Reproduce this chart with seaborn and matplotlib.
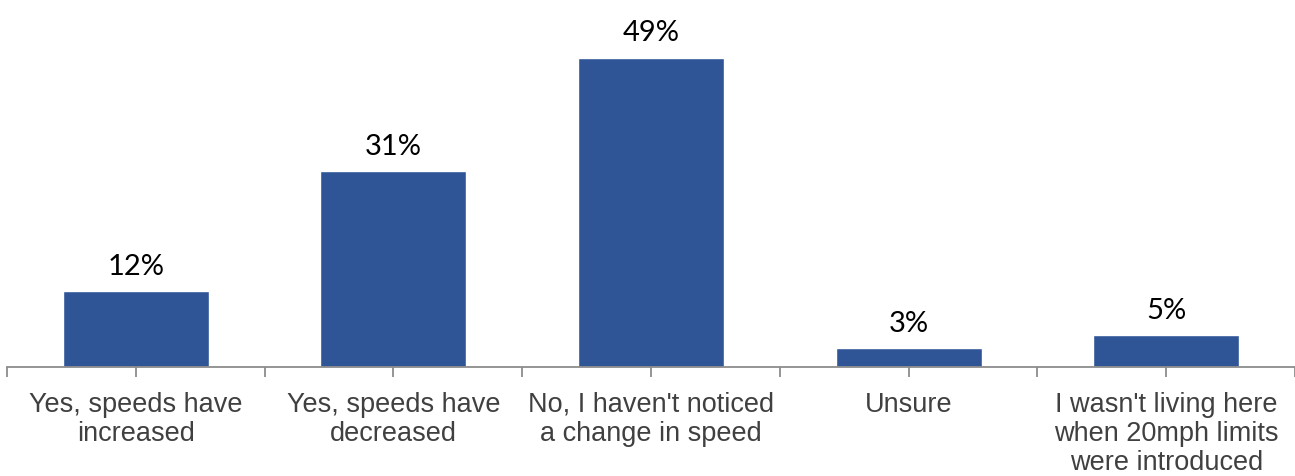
import matplotlib
matplotlib.use("Agg")
import matplotlib.pyplot as plt
import seaborn as sns
import pandas as pd
import numpy as np

categories = [
    "Yes, speeds have\nincreased",
    "Yes, speeds have\ndecreased",
    "No, I haven't noticed\na change in speed",
    "Unsure",
    "I wasn't living here\nwhen 20mph limits\nwere introduced",
]
values = [12, 31, 49, 3, 5]
value_labels = ["12%", "31%", "49%", "3%", "5%"]

sns.set_theme(style="white")
plt.rcParams["font.family"] = ["Liberation Sans", "DejaVu Sans"]

df = pd.DataFrame({"category": categories, "value": values})

fig = plt.figure(figsize=(12.95, 4.77), dpi=100)
ax = fig.add_axes([7 / 1295, 109 / 477, 1 - 7 / 1295, 368 / 477])

sns.barplot(data=df, x="category", y="value", color="#2F5597",
            width=0.567, saturation=1, ax=ax)

ax.set_ylim(0, 58.3)
ax.set_xlim(-0.5, len(categories) - 0.5)

for patch, lab in zip(ax.patches, value_labels):
    cx = patch.get_x() + patch.get_width() / 2
    ax.annotate(lab, (cx, patch.get_height()), xytext=(0, 9),
                textcoords="offset points", ha="center", va="bottom",
                fontsize=21, color="#000000", family=["Lato", "DejaVu Sans"])

for side in ["top", "right", "left"]:
    ax.spines[side].set_visible(False)
ax.spines["bottom"].set_color("#8C8C8C")
ax.spines["bottom"].set_linewidth(1.3)
ax.set_yticks([])
ax.set_xlabel("")
ax.set_ylabel("")

# ticks at category centres and boundaries
ax.set_xticks(range(len(categories)))
ax.set_xticklabels(categories, fontsize=19.5, color="#404040", linespacing=1.16)
ax.set_xticks(np.arange(-0.5, len(categories)), minor=True)
ax.tick_params(axis="x", which="both", bottom=True, length=7, width=1.3,
               color="#8C8C8C", direction="out")
ax.tick_params(axis="x", which="major", pad=10)

fig.savefig("out.png", dpi=100)
